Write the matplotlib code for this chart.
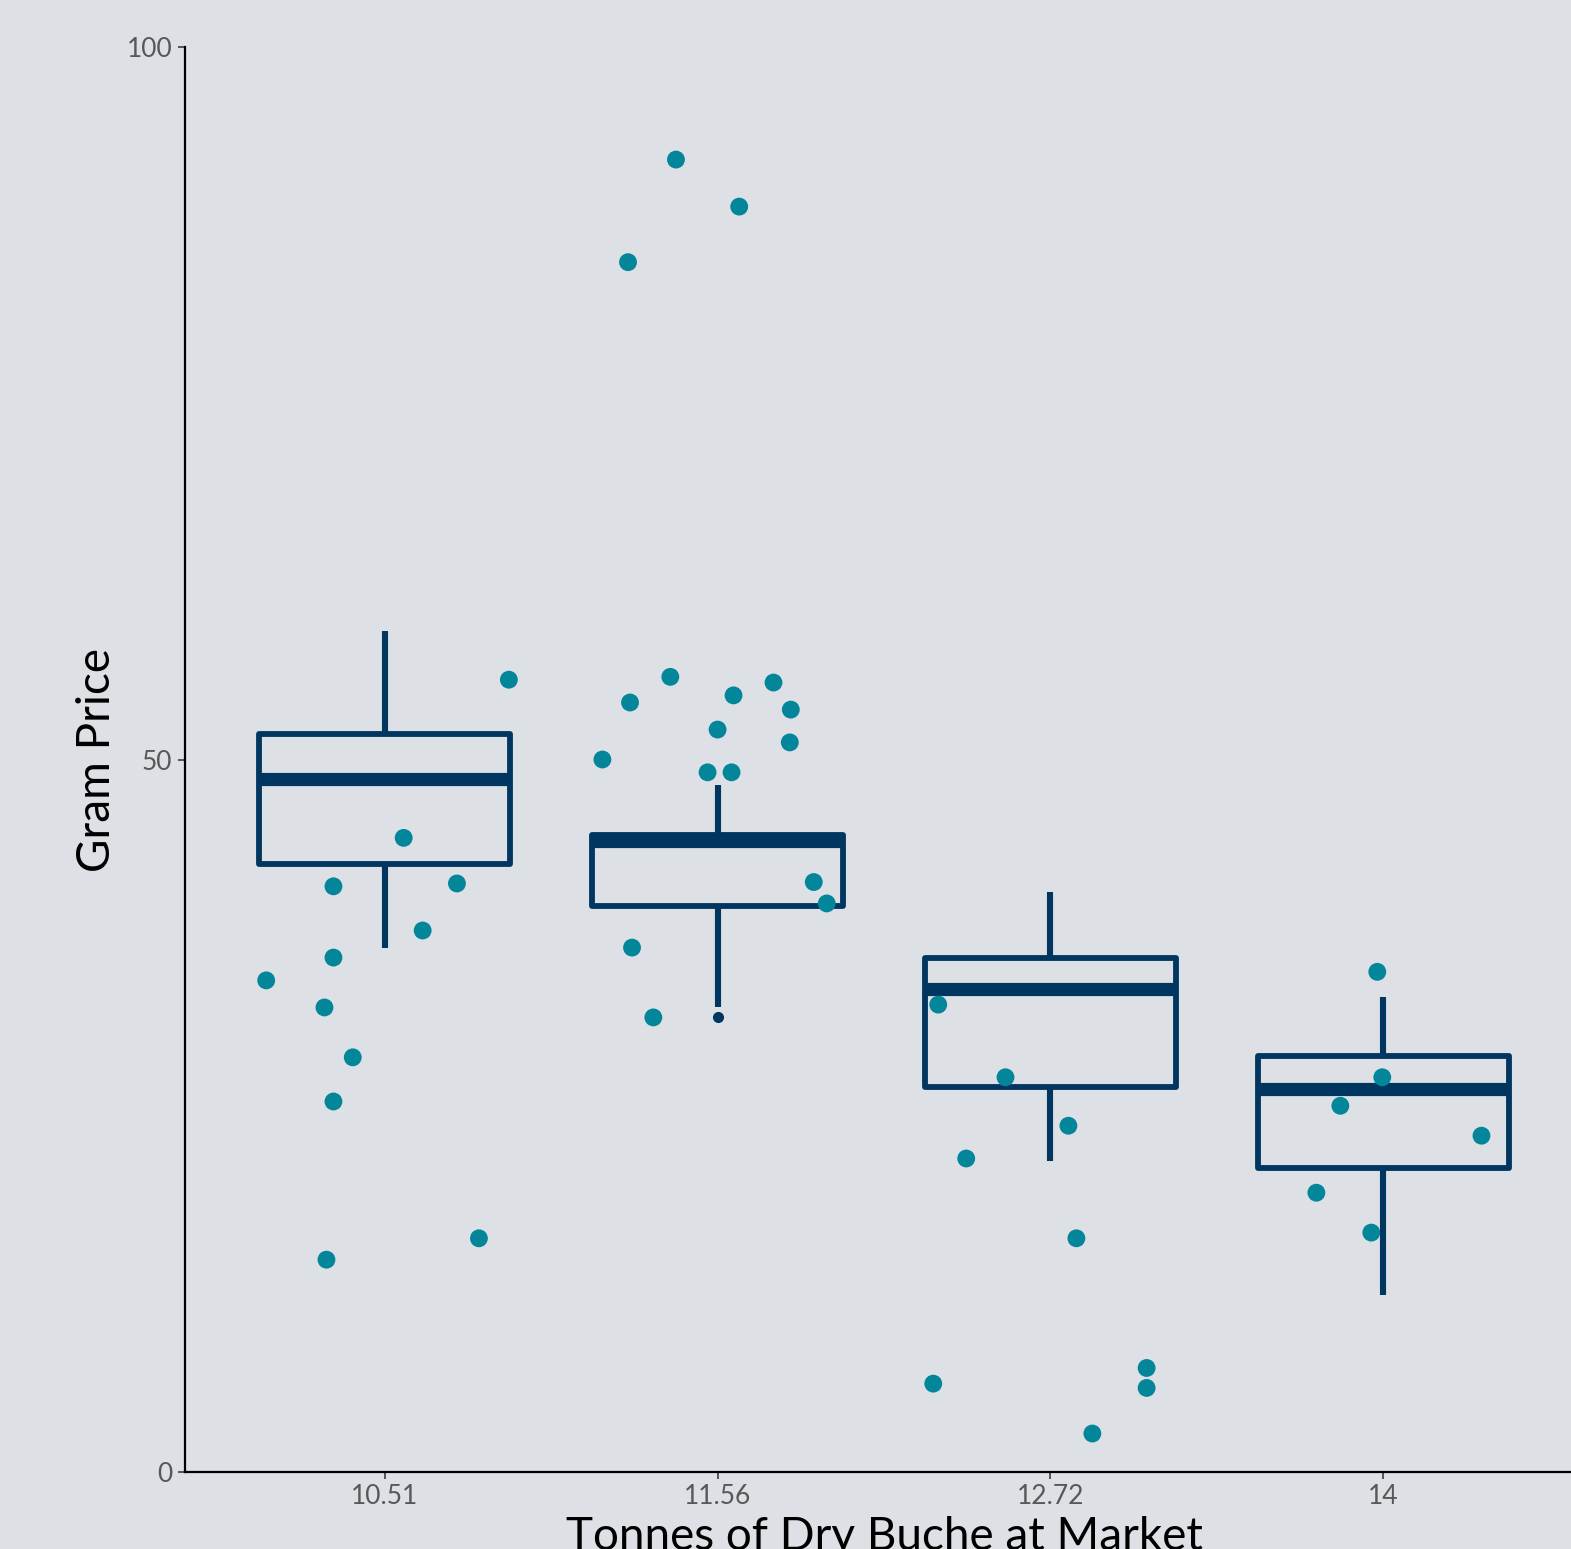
import matplotlib
matplotlib.use("Agg")
import matplotlib.pyplot as plt
import numpy as np

# ---- data ----
categories = ["10.51", "11.56", "12.72", "14"]
# box statistics per category (whisker low, Q1, median, Q3, whisker high)
whislo = [36.8, 32.6, 21.8, 12.4]
q1 = [42.7, 39.7, 27.0, 21.3]
med = [48.6, 44.3, 33.9, 26.9]
q3 = [51.8, 44.7, 36.1, 29.2]
whishi = [59.0, 48.2, 40.7, 33.3]
outliers = [[], [31.9], [], []]

# jittered points: category index, horizontal offset (category units), price
pt_cat = [0]*12 + [1]*17 + [2]*9 + [3]*6
pt_off = [-0.356, -0.154, -0.154, -0.181, -0.096, -0.154, -0.175, 0.057, 0.114, 0.217, 0.283, 0.373,
          -0.269, -0.125, 0.065, -0.263, -0.142, -0.346, 0.0, 0.048, 0.168, 0.220, 0.217, -0.030, 0.042, 0.289, 0.328, -0.257, -0.193,
          -0.337, -0.135, -0.253, 0.054, 0.078, -0.352, 0.289, 0.289, 0.126,
          -0.018, -0.003, -0.129, 0.295, -0.201, -0.036]
pt_val = [34.5, 41.1, 36.1, 32.6, 29.1, 26.0, 14.9, 44.5, 38.0, 41.3, 16.4, 55.6,
          84.9, 92.1, 88.8, 54.0, 55.8, 50.0, 52.1, 54.5, 55.4, 53.5, 51.2, 49.1, 49.1, 41.4, 39.9, 36.8, 31.9,
          32.8, 27.7, 22.0, 24.3, 16.4, 6.2, 7.3, 5.9, 2.7,
          35.1, 27.7, 25.7, 23.6, 19.6, 16.8]

y_ticks = [0, 50, 100]

# ---- style ----
bg = "#dde1e5"
navy = "#00365f"
teal = "#03859a"
W, H = 1571, 1549
fig = plt.figure(figsize=(W/100, H/100), dpi=100, facecolor=bg)
left = 185/W
right = 1583/W
bottom = (H-1472)/H
top = (H-47)/H
ax = fig.add_axes([left, bottom, right-left, top-bottom], facecolor=bg)

stats = []
for i in range(len(categories)):
    stats.append(dict(whislo=whislo[i], q1=q1[i], med=med[i], q3=q3[i],
                      whishi=whishi[i], fliers=outliers[i]))
pos = np.arange(1, len(categories)+1)
ax.bxp(stats, positions=pos, widths=0.755, showcaps=False, patch_artist=True,
       boxprops=dict(facecolor="none", edgecolor=navy, linewidth=4.2, joinstyle="round"),
       whiskerprops=dict(color=navy, linewidth=4.4, solid_capstyle="butt"),
       medianprops=dict(color=navy, linewidth=9.5, solid_capstyle="butt"),
       flierprops=dict(marker="o", markerfacecolor=navy, markeredgecolor=navy, markersize=7),
       manage_ticks=False)

xs = np.array(pt_cat) + 1 + np.array(pt_off)
ax.scatter(xs, pt_val, s=165, color=teal, edgecolors="none", zorder=5)

ax.set_xlim(0.4, 4.6)
ax.set_ylim(0, 100)
ax.set_xticks(pos)
ax.set_xticklabels(categories)
ax.set_yticks(y_ticks)

for s in ["top", "right"]:
    ax.spines[s].set_visible(False)
for s in ["left", "bottom"]:
    ax.spines[s].set_color("black")
    ax.spines[s].set_linewidth(1.6)
ax.tick_params(axis="both", colors="#555555", labelsize=19, length=5, width=1.4, pad=4)
for lab in ax.get_xticklabels() + ax.get_yticklabels():
    lab.set_family("Lato")
    lab.set_color("#585858")

ax.set_xlabel("Tonnes of Dry Buche at Market", fontsize=33, family="Lato", color="black", labelpad=5)
ax.set_ylabel("Gram Price", fontsize=33, family="Lato", color="black", labelpad=6)

fig.savefig("out.png", dpi=100, facecolor=bg)
